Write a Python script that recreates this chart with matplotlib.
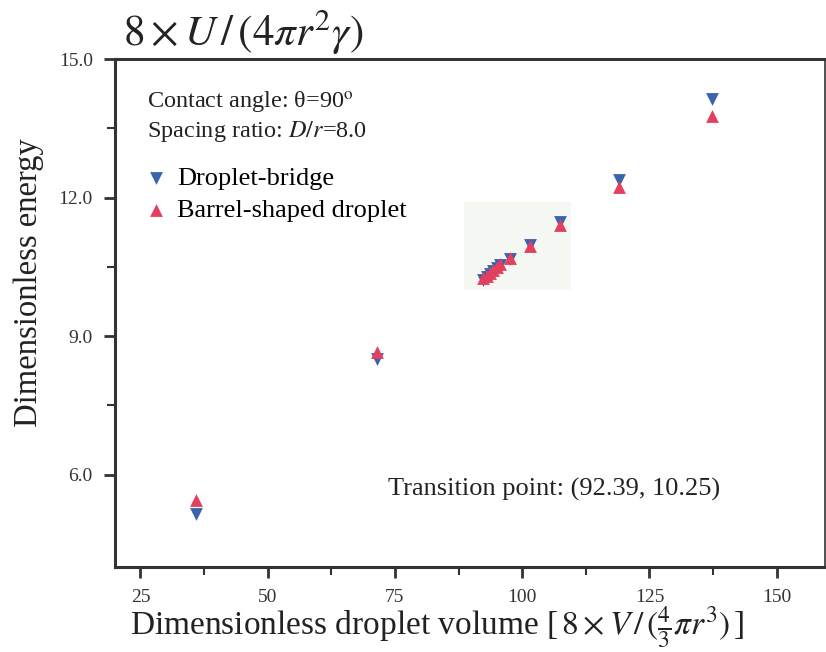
import matplotlib.pyplot as plt
from matplotlib.patches import Rectangle

plt.rcParams['font.family'] = ['Liberation Serif', 'DejaVu Serif']
plt.rcParams['mathtext.fontset'] = 'stix'

# dimensionless droplet volume and energy
bridge_x = [36.0, 71.4, 92.4, 93.0, 93.6, 94.2, 95.0, 95.6, 97.7, 101.5, 107.4, 119.1, 137.2]
bridge_y = [5.15, 8.50, 10.22, 10.28, 10.34, 10.40, 10.47, 10.53, 10.68, 10.98, 11.47, 12.38, 14.13]
barrel_x = [36.0, 71.4, 92.4, 93.0, 93.6, 94.2, 95.0, 95.6, 97.7, 101.5, 107.4, 119.1, 137.2]
barrel_y = [5.45, 8.66, 10.25, 10.31, 10.37, 10.43, 10.50, 10.56, 10.70, 10.95, 11.40, 12.23, 13.77]
xticks = [25, 50, 75, 100, 125, 150]
yticks = [6.0, 9.0, 12.0, 15.0]

fig = plt.figure(figsize=(8.26, 6.52), dpi=100)
ax = fig.add_axes([115/826, 1-567/652, 710/826, 508/652])

# faint pasted patch behind the cluster
ax.add_patch(Rectangle((88.5, 10.0), 21, 1.9, color='#f5f7f2', zorder=0, lw=0))

ax.scatter(bridge_x, bridge_y, marker='v', s=85, color='#3b62ad', lw=0, label='Droplet-bridge', zorder=3)
ax.scatter(barrel_x, barrel_y, marker='^', s=85, color='#e2405e', lw=0, label='Barrel-shaped droplet', zorder=4)

ax.set_xlim(20, 159.5)
ax.set_ylim(4, 15)
ax.set_xticks(xticks)
ax.set_yticks(yticks)
ax.set_yticklabels(['%.1f' % v for v in yticks])
ax.set_xticks([37.5, 62.5, 87.5, 112.5, 137.5], minor=True)
ax.set_yticks([7.5, 10.5, 13.5], minor=True)
ax.tick_params(which='major', direction='out', length=8, width=2, color='#333333',
               labelsize=14, labelcolor='#333333', pad=8)
ax.tick_params(which='minor', direction='out', length=6, width=1.5, color='#333333')
for s in ['left', 'bottom', 'top']:
    ax.spines[s].set_linewidth(2.2)
    ax.spines[s].set_color('#333333')
ax.spines['right'].set_linewidth(1.2)
ax.spines['right'].set_color('#333333')

ax.set_ylabel('Dimensionless energy', fontsize=23.5, color='#222222')
ax.yaxis.set_label_coords(-0.10, 0.56)
ax.set_xlabel(r'Dimensionless droplet volume [$\,8\times V\,/\,(\frac{4}{3}\pi r^3)\,$]',
              fontsize=24, color='#222222')
ax.xaxis.set_label_coords(0.454, -0.074)
fig.text(123/826, 1-46/652, r'$8\times U\,/\,(4\pi r^2\gamma)$', fontsize=31, color='#222222')

ax.text(0.045, 0.902, 'Contact angle: θ=90$^{\\rm o}$', transform=ax.transAxes, fontsize=17.5, color='#222222')
ax.text(0.045, 0.846, 'Spacing ratio: $D/r$=8.0', transform=ax.transAxes, fontsize=17.5, color='#222222')
ax.text(0.385, 0.14, 'Transition point: (92.39, 10.25)', transform=ax.transAxes, fontsize=19, color='#222222')

ax.legend(loc='upper left', bbox_to_anchor=(0.022, 0.81), frameon=False, fontsize=19,
          handletextpad=0.25, labelspacing=0.35, borderaxespad=0, handlelength=1.1)

fig.savefig('out.png', dpi=100)
